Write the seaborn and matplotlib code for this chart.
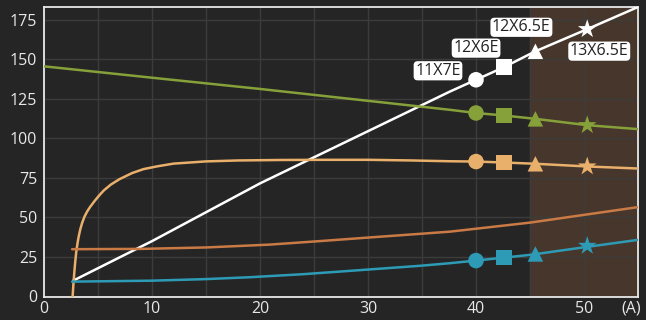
import numpy as np
import pandas as pd
import matplotlib
matplotlib.use("Agg")
import matplotlib.pyplot as plt
import seaborn as sns

# --- data ---
white_x = [2.7, 10, 20, 30, 37.6, 40, 42.6, 45.5, 50.3, 55]
white_y = [10.0, 35.0, 71.5, 104.5, 129.6, 137.0, 145.0, 155.0, 169.0, 183.0]

green_x = [0, 10, 20, 30, 37.6, 40, 42.6, 45.5, 50.3, 55]
green_y = [145.5, 138.3, 131.2, 123.7, 118.0, 116.0, 114.4, 112.3, 108.3, 105.8]

lorange_x = [2.65, 2.72, 2.8, 2.9, 3.0, 3.1, 3.2, 3.35, 3.52, 3.75, 4.0, 4.29, 4.7, 5.1, 5.53,
             6.2, 7.0, 8.15, 9.2, 10.5, 12, 15, 18, 22, 26, 30, 34, 37.5, 40, 42.6, 45.5,
             50.3, 55]
lorange_y = [0, 7.5, 14.7, 22.5, 29.0, 33.5, 37.5, 42.2, 46.3, 50.5, 53.8, 56.8, 60.5, 63.8,
             67.0, 70.8, 74.2, 78.0, 80.5, 82.3, 84.0, 85.4, 86.0, 86.3, 86.4, 86.4, 86.0,
             85.5, 85.3, 84.7, 83.9, 82.2, 80.9]

dorange_x = [2.6, 9, 15, 20.9, 25.5, 29.9, 34.8, 37.6, 45, 50, 55]
dorange_y = [29.9, 30.1, 31.0, 32.8, 35.0, 37.2, 39.6, 41.0, 46.7, 51.6, 56.5]

teal_x = [2.6, 10, 15, 19.1, 24, 28.3, 34.8, 37.5, 40, 42.6, 45, 50, 55]
teal_y = [9.4, 10.0, 11.0, 12.2, 14.1, 16.2, 19.4, 21.0, 22.7, 24.6, 26.3, 31.1, 35.8]

# marked sizes (x positions) and their labels
mark_x = [40, 42.6, 45.5, 50.3]
mark_shapes = ["o", "s", "^", "*"]
mark_labels = ["11X7E", "12X6E", "12X6.5E", "13X6.5E"]
white_marks = [137.0, 145.0, 155.0, 169.0]
green_marks = [116.0, 114.4, 112.3, 108.3]
lorange_marks = [85.3, 84.7, 83.9, 82.2]
teal_marks = [22.7, 24.6, 26.9, 32.0]

xticks = [0, 10, 20, 30, 40, 50]
unit_label = "(A)"
yticks = [0, 25, 50, 75, 100, 125, 150, 175]

BG = "#252525"
sns.set_theme(style="dark", rc={
    "axes.facecolor": BG, "figure.facecolor": BG,
    "axes.edgecolor": "#e8e8e8", "grid.color": "#3c3c3c",
    "xtick.color": "#e8e8e8", "ytick.color": "#e8e8e8",
    "text.color": "#e8e8e8", "axes.labelcolor": "#e8e8e8",
})
plt.rcParams["font.family"] = ["Open Sans", "DejaVu Sans"]

fig = plt.figure(figsize=(6.46, 3.2), dpi=100)
ax = fig.add_axes([44 / 646, 1 - 296.5 / 320, 594 / 646, 289.5 / 320])

ax.axvspan(45, 55, color="#47362b", zorder=0)

series = [
    (white_x, white_y, "#ffffff", white_marks),
    (green_x, green_y, "#86a03a", green_marks),
    (lorange_x, lorange_y, "#e9b06b", lorange_marks),
    (dorange_x, dorange_y, "#c97a45", None),
    (teal_x, teal_y, "#2e9bb6", teal_marks),
]
for xs, ys, col, marks in series:
    sns.lineplot(x=xs, y=ys, color=col, linewidth=1.8, ax=ax, sort=False, zorder=3)
    if marks is not None:
        for mx, my, shp in zip(mark_x, marks, mark_shapes):
            size = 200 if shp == "*" else 125
            sns.scatterplot(x=[mx], y=[my], marker=shp, s=size, color=col,
                            edgecolor="none", ax=ax, zorder=4)

offsets = [(-38, 9), (-28, 19), (-14, 24), (12, -22)]
for mx, my, lab, off in zip(mark_x, white_marks, mark_labels, offsets):
    ax.annotate(lab, (mx, my), xytext=off, textcoords="offset pixels",
                ha="center", va="center", fontsize=11.5, color="#222222", zorder=6,
                bbox=dict(boxstyle="round,pad=0.1,rounding_size=0.25",
                          fc="white", ec="none"))

ax.set_xlim(0, 55)
ax.set_ylim(0, 183)
ax.set_xticks(xticks)
ax.set_yticks(yticks)
ax.set_xticks(np.arange(5, 55, 5), minor=True)
ax.grid(True, which="both", axis="x", color="#3c3c3c", linewidth=1)
ax.grid(True, which="major", axis="y", color="#3c3c3c", linewidth=1)
ax.tick_params(axis="both", which="both", length=0, labelsize=11.5)
ax.tick_params(axis="y", pad=5)
ax.tick_params(axis="x", pad=3)
# unit label sits where a last tick label would be, kept inside the figure
ax.annotate(unit_label, (54.4, 0), xycoords=ax.get_xaxis_transform(),
            xytext=(0, -4.2), textcoords="offset pixels",
            ha="center", va="top", fontsize=11.5, color="#e8e8e8")
for sp in ax.spines.values():
    sp.set_visible(True)
    sp.set_color("#e8e8e8")
    sp.set_linewidth(1.3)
ax.set_xlabel("")
ax.set_ylabel("")

fig.savefig("out.png", dpi=100, facecolor=BG)
